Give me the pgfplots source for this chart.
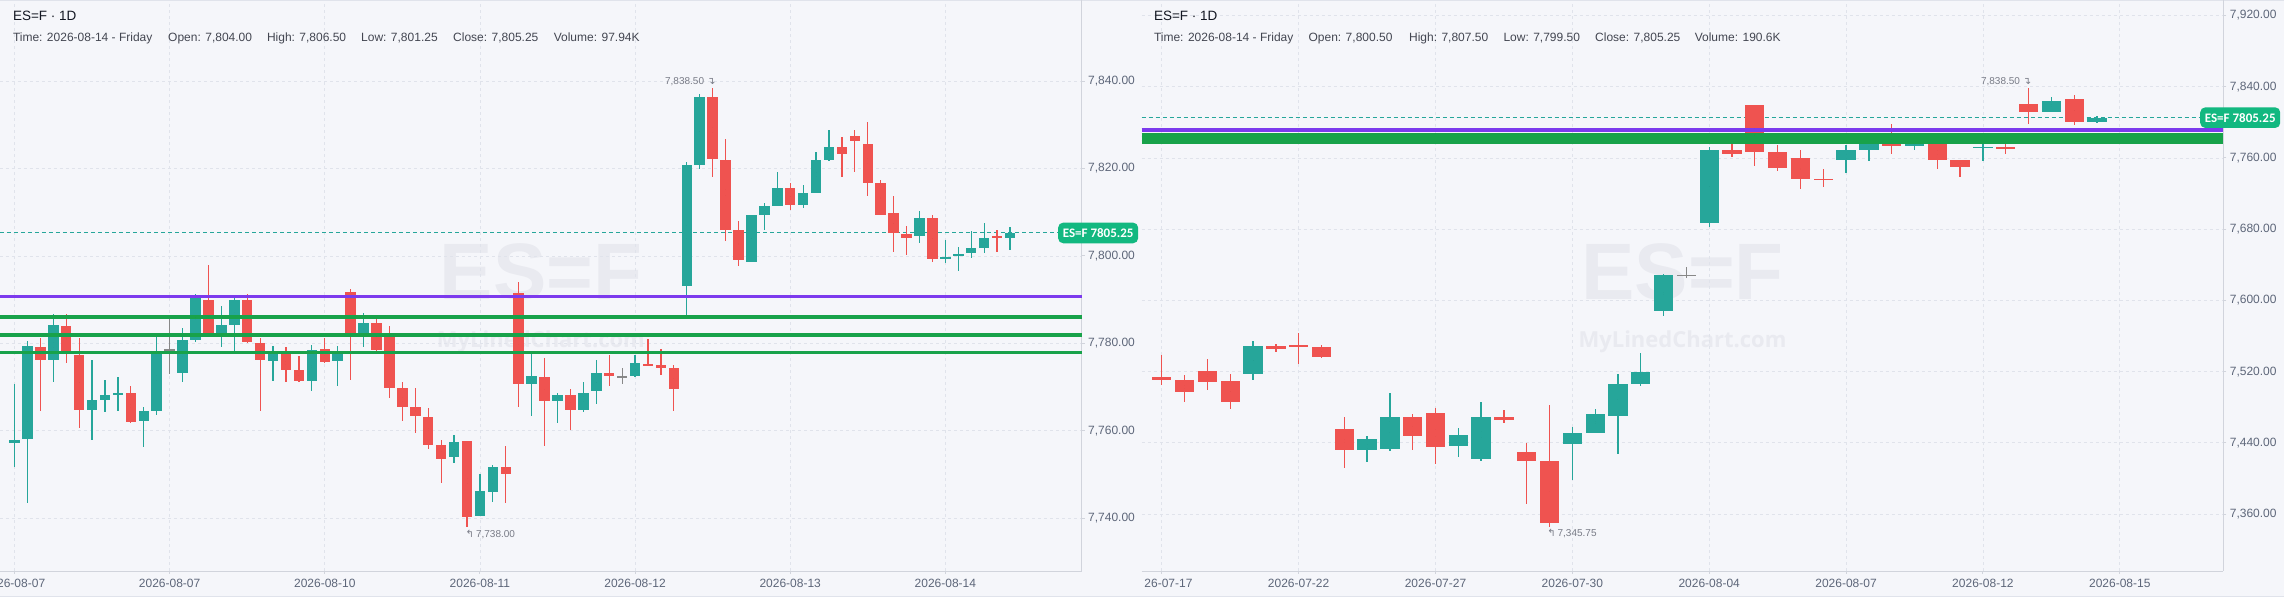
\documentclass[border=0pt]{standalone}
\usepackage{pgfplots}
\pgfplotsset{compat=1.18}
\usepackage{pgfplotstable}
\usepackage{fontspec}
\setmainfont{Liberation Sans}
\newfontfamily\tagfont{Carlito}
\newfontfamily\symfont{DejaVu Sans}
\newfontfamily\wmfont{Open Sans}

\definecolor{bgc}{RGB}{245,246,250}
\definecolor{upc}{RGB}{38,166,154}
\definecolor{dnc}{RGB}{239,83,80}
\definecolor{neuc}{RGB}{136,136,136}
\definecolor{purpc}{RGB}{124,58,237}
\definecolor{linec}{RGB}{24,162,74}
\definecolor{tagc}{RGB}{18,184,128}
\definecolor{gridc}{RGB}{224,227,235}
\definecolor{axc}{RGB}{209,212,220}
\definecolor{labc}{RGB}{93,102,121}
\definecolor{wmc}{RGB}{233,234,240}
\definecolor{titc}{RGB}{19,23,34}
\definecolor{subc}{RGB}{67,70,81}
\definecolor{annc}{RGB}{120,123,134}

% Left panel (intraday candles): index, open, high, low, close
\pgfplotstableread{
i O H L C
0 7757.15 7770.7 7751.8 7757.9
1 7758.1 7780.55 7743.6 7779.4
2 7779.2 7781.2 7764.6 7776.3
3 7776.3 7786.7 7771.25 7784.2
4 7784.0 7786.7 7775.6 7777.7
5 7777.35 7781.2 7760.7 7764.8
6 7764.8 7776.2 7757.8 7767.05
7 7767.05 7771.6 7764.4 7768.2
8 7768.2 7772.4 7764.6 7768.7
9 7768.7 7770.3 7761.9 7762.1
10 7762.3 7765.5 7756.2 7764.5
11 7764.6 7781.5 7763.6 7778.3
12 7778.5 7785.7 7772.9 7778.5
13 7773.2 7783.45 7771.25 7780.8
14 7780.8 7791.3 7780.4 7790.3
15 7789.9 7797.9 7781.4 7782.3
16 7782.3 7788.55 7779.25 7784.2
17 7784.2 7790.3 7778.3 7789.9
18 7789.9 7791.2 7780.0 7780.4
19 7780.2 7781.2 7764.6 7776.3
20 7776.05 7779.4 7771.5 7778.1
21 7778.1 7779.25 7771.25 7773.8
22 7773.8 7777.1 7771.25 7771.5
23 7771.5 7779.6 7769.2 7778.5
24 7778.7 7781.3 7775.4 7775.8
25 7776.05 7779.45 7770.3 7777.7
26 7791.8 7792.4 7771.6 7782.3
27 7782.3 7787.0 7779.25 7784.7
28 7784.7 7785.5 7777.5 7778.5
29 7781.5 7784.0 7767.6 7769.7
30 7769.7 7771.25 7762.3 7765.5
31 7765.4 7769.9 7759.4 7763.5
32 7763.2 7765.3 7755.8 7756.8
33 7756.8 7757.9 7748.0 7753.6
34 7754.0 7759.05 7752.6 7757.5
35 7757.7 7757.7 7738.0 7740.4
36 7740.6 7750.1 7740.5 7746.25
37 7746.1 7752.2 7743.8 7751.8
38 7751.8 7756.5 7743.4 7750.05
39 7791.45 7794.0 7765.5 7770.6
40 7770.6 7777.7 7763.5 7772.55
41 7772.2 7776.6 7756.5 7766.9
42 7766.9 7768.7 7761.7 7768.2
43 7768.2 7769.5 7760.2 7764.8
44 7764.8 7771.25 7764.4 7768.6
45 7769.0 7776.2 7766.1 7773.2
46 7773.2 7777.35 7770.3 7772.6
47 7772.4 7774.3 7770.7 7772.4
48 7772.6 7777.35 7772.4 7775.4
49 7775.3 7780.9 7774.8 7775.0
50 7775.0 7778.6 7772.8 7774.45
51 7774.3 7775.05 7764.6 7769.6
52 7793.2 7821.55 7786.5 7820.8
53 7820.8 7837.0 7819.8 7836.3
54 7836.3 7838.5 7818.1 7822.2
55 7821.9 7826.7 7803.5 7805.9
56 7805.9 7808.0 7797.8 7799.1
57 7798.7 7809.4 7798.5 7809.4
58 7809.4 7812.0 7805.9 7811.5
59 7811.5 7819.1 7811.5 7815.5
60 7815.5 7816.6 7810.5 7811.65
61 7811.65 7816.2 7811.0 7814.3
62 7814.5 7823.8 7814.5 7821.9
63 7821.9 7828.8 7821.7 7824.9
64 7824.9 7827.2 7818.1 7823.4
65 7827.4 7828.8 7819.3 7826.35
66 7825.6 7830.7 7813.8 7816.75
67 7816.75 7817.4 7809.4 7809.4
68 7809.7 7813.7 7801.0 7805.2
69 7805.0 7806.8 7800.1 7804.2
70 7804.6 7810.3 7803.0 7808.6
71 7808.6 7809.4 7798.5 7799.3
72 7799.4 7803.6 7798.3 7799.7
73 7800.1 7802.1 7796.6 7800.4
74 7800.6 7805.7 7799.6 7801.8
75 7801.9 7807.6 7800.6 7804.1
76 7804.55 7805.9 7800.8 7804.2
77 7804.0 7806.5 7801.25 7805.25
}\leftdata

% Right panel (daily candles)
\pgfplotstableread{
i O H L C
0 7513.5 7538.6 7504.9 7510.9
1 7510.5 7516.2 7486.2 7497.4
2 7520.65 7534.1 7499.3 7508.7
3 7509.4 7517.3 7478.0 7486.2
4 7516.9 7554.3 7510.5 7548.7
5 7548.7 7550.95 7542.0 7545.7
6 7550.2 7563.3 7528.5 7547.95
7 7547.6 7549.8 7535.6 7536.7
8 7455.5 7469.0 7412.1 7432.3
9 7432.3 7447.6 7418.8 7444.3
10 7433.4 7496.3 7431.2 7469.0
11 7469.0 7472.35 7432.3 7448.0
12 7473.5 7478.7 7416.6 7435.7
13 7436.8 7456.6 7424.4 7448.75
14 7422.2 7485.8 7419.9 7469.0
15 7469.0 7476.8 7462.6 7466.0
16 7429.7 7439.4 7371.3 7419.9
17 7419.6 7482.5 7345.75 7350.3
18 7439.0 7457.75 7398.2 7451.0
19 7451.4 7478.0 7450.6 7472.35
20 7470.5 7517.3 7427.4 7506.05
21 7506.4 7540.9 7503.8 7519.5
22 7588.4 7629.6 7582.8 7628.5
23 7628.1 7637.45 7625.5 7628.1
24 7686.5 7772.0 7682.8 7768.9
25 7768.9 7775.2 7761.4 7764.7
26 7819.4 7819.4 7751.3 7767.0
27 7766.6 7774.5 7745.65 7749.0
28 7759.9 7768.9 7724.7 7736.7
29 7736.7 7747.9 7727.7 7735.9
30 7758.0 7775.0 7743.4 7768.9
31 7769.2 7780.0 7756.9 7776.0
32 7778.0 7798.1 7764.4 7773.7
33 7773.7 7780.0 7769.2 7777.0
34 7778.0 7780.0 7747.9 7758.0
35 7757.6 7757.6 7738.9 7750.1
36 7771.5 7778.0 7756.9 7772.2
37 7772.2 7776.0 7764.75 7770.4
38 7820.5 7838.5 7798.1 7811.9
39 7811.9 7828.8 7811.9 7823.9
40 7826.1 7830.6 7796.9 7800.7
41 7800.5 7807.5 7799.5 7805.25
}\rightdata

% #1 table, #2 colour, #3 domain of C-O, #4 body width, #5 wick width, #6 min half body
\newcommand{\candleset}[6]{%
  \addplot[only marks, mark=*, mark size=0pt, mark options={draw=none, fill=none}, forget plot,
    restrict expr to domain={\thisrow{C}-\thisrow{O}}{#3},
    error bars/.cd, y dir=both, y explicit, error mark=none,
    error bar style={draw=#2, line width=#5}]
    table[x=i, y expr={\thisrow{L}+(\thisrow{H}-\thisrow{L})/2},
      y error expr={(\thisrow{H}-\thisrow{L})/2}] {#1};
  \addplot[only marks, mark=*, mark size=0pt, mark options={draw=none, fill=none}, forget plot,
    restrict expr to domain={\thisrow{C}-\thisrow{O}}{#3},
    error bars/.cd, y dir=both, y explicit, error mark=none,
    error bar style={draw=#2, line width=#4}]
    table[x=i, y expr={min(\thisrow{O},\thisrow{C})+abs(\thisrow{O}-\thisrow{C})/2},
      y error expr={max(abs(\thisrow{O}-\thisrow{C})/2,#6)}] {#1};
}

\pgfplotsset{
  panel/.style={
    scale only axis, height=571pt,
    axis x line*=bottom, axis y line*=right,
    axis line style={draw=axc, line width=0.9pt},
    tick align=outside, major tick length=3pt,
    tick style={draw=axc, line width=0.9pt},
    grid=major,
    major grid style={draw=gridc, line width=0.8pt, dash pattern=on 3pt off 3pt},
    tick label style={font=\fontsize{12}{14}\selectfont, text=labc},
    xticklabel style={yshift=-1.5pt},
    scaled y ticks=false,
    yticklabel={\pgfmathprintnumber[fixed, fixed zerofill, precision=2, 1000 sep={,}, assume math mode=true]{\tick}},
    clip=false,
  },
}

\begin{document}
\begin{tikzpicture}
\useasboundingbox (0,0) rectangle (2284pt,597pt);
\fill[bgc] (0,0) rectangle (2284pt,597pt);
\draw[gridc, line width=1pt] (0,596.5pt) -- (2284pt,596.5pt);
\draw[gridc, line width=1pt] (0,0.5pt) -- (2284pt,0.5pt);

% watermarks
\node[anchor=base, inner sep=0pt, text=wmc, font=\fontsize{80}{80}\selectfont\bfseries] at (540.9pt,297pt) {ES=F};
\node[anchor=base, inner sep=0pt, text=wmc, font=\wmfont\fontsize{22}{22}\selectfont\bfseries] at (540.9pt,249.3pt) {MyLinedChart.com};
\node[anchor=base, inner sep=0pt, text=wmc, font=\fontsize{80}{80}\selectfont\bfseries] at (1682.5pt,297pt) {ES=F};
\node[anchor=base, inner sep=0pt, text=wmc, font=\wmfont\fontsize{22}{22}\selectfont\bfseries] at (1682.5pt,249.3pt) {MyLinedChart.com};

% ---------------- left panel ----------------
\begin{axis}[panel,
  at={(0pt,26pt)}, anchor=south west, width=1081.7pt,
  xmin=-1.121, xmax=82.54, ymin=7727.95, ymax=7858.52,
  xtick={0,12,24,36,48,60,72},
  xticklabels={\phantom{20}26-08-07,2026-08-07,2026-08-10,2026-08-11,2026-08-12,2026-08-13,2026-08-14},
  ytick={7740,7760,7780,7800,7820,7840},
]
\addplot[upc, line width=1pt, dash pattern=on 4pt off 3pt, forget plot] coordinates {(-1.121,7805.25) (82.54,7805.25)};
\candleset{\leftdata}{upc}{0.001:1000}{10.5pt}{1.2pt}{0.115}
\candleset{\leftdata}{dnc}{-1000:-0.001}{10.5pt}{1.2pt}{0.115}
\candleset{\leftdata}{neuc}{-0.0005:0.0005}{10.5pt}{1.2pt}{0.115}
\addplot[purpc, line width=3.7pt, forget plot] coordinates {(-1.121,7790.7) (82.54,7790.7)};
\addplot[linec, line width=3.7pt, forget plot] coordinates {(-1.121,7786.1) (82.54,7786.1)};
\addplot[linec, line width=3.7pt, forget plot] coordinates {(-1.121,7781.9) (82.54,7781.9)};
\addplot[linec, line width=3.7pt, forget plot] coordinates {(-1.121,7777.9) (82.54,7777.9)};
\node[anchor=base east, inner sep=0pt, text=annc, font=\fontsize{10}{12}\selectfont, xshift=3pt, yshift=3.3pt] at (axis cs:54,7838.5) {7,838.50\hspace{3pt}{\symfont ↴}};
\node[anchor=base west, inner sep=0pt, text=annc, font=\fontsize{10}{12}\selectfont, xshift=-1.5pt, yshift=-10pt] at (axis cs:35,7738) {{\symfont ↰}\hspace{2pt}7,738.00};
\node[fill=tagc, rounded corners=5pt, text=white, minimum width=80pt, minimum height=20.6pt, inner sep=0pt, anchor=west, xshift=-23.7pt, font=\tagfont\bfseries\fontsize{13}{14}\selectfont] at (axis cs:82.54,7805.25) {ES=F 7805.25};
\end{axis}

% ---------------- right panel ----------------
\begin{axis}[panel,
  at={(1141.7pt,26pt)}, anchor=south west, width=1081.6pt,
  xmin=-0.881, xmax=46.54, ymin=7296.15, ymax=7937.36,
  xtick={0,6,12,18,24,30,36,42},
  xticklabels={\phantom{20}26-07-17,2026-07-22,2026-07-27,2026-07-30,2026-08-04,2026-08-07,2026-08-12,2026-08-15},
  ytick={7360,7440,7520,7600,7680,7760,7840,7920},
]
\addplot[upc, line width=1pt, dash pattern=on 4pt off 3pt, forget plot] coordinates {(-0.881,7805.25) (46.54,7805.25)};
\candleset{\rightdata}{upc}{0.001:1000}{19.3pt}{1.3pt}{0.56}
\candleset{\rightdata}{dnc}{-1000:-0.001}{19.3pt}{1.3pt}{0.56}
\candleset{\rightdata}{neuc}{-0.0005:0.0005}{19.3pt}{1.3pt}{0.56}
\addplot[purpc, line width=3.9pt, forget plot] coordinates {(-0.881,7791.3) (46.54,7791.3)};
\addplot[linec, line width=3.9pt, forget plot] coordinates {(-0.881,7786.1) (46.54,7786.1)};
\addplot[linec, line width=3.9pt, forget plot] coordinates {(-0.881,7781.9) (46.54,7781.9)};
\addplot[linec, line width=3.9pt, forget plot] coordinates {(-0.881,7777.9) (46.54,7777.9)};
\node[anchor=base east, inner sep=0pt, text=annc, font=\fontsize{10}{12}\selectfont, xshift=3pt, yshift=3.3pt] at (axis cs:38,7838.5) {7,838.50\hspace{3pt}{\symfont ↴}};
\node[anchor=base west, inner sep=0pt, text=annc, font=\fontsize{10}{12}\selectfont, xshift=-2.5pt, yshift=-10pt] at (axis cs:17,7345.75) {{\symfont ↰}\hspace{2pt}7,345.75};
\node[fill=tagc, rounded corners=5pt, text=white, minimum width=80pt, minimum height=20.6pt, inner sep=0pt, anchor=west, xshift=-23.3pt, font=\tagfont\bfseries\fontsize{13}{14}\selectfont] at (axis cs:46.54,7805.25) {ES=F 7805.25};
\end{axis}

% headers
\node[anchor=base west, inner sep=0pt, text=titc, font=\fontsize{13.5}{15}\selectfont] at (12.8pt,576.3pt) {ES=F · 1D};
\begin{scope}[every node/.style={anchor=base west, inner sep=0pt, text=subc, font=\fontsize{12}{14}\selectfont}]
\node at (12.8pt,555.3pt) {Time: 2026-08-14 - Friday};
\node at (168pt,555.3pt) {Open: 7,804.00};
\node at (266.8pt,555.3pt) {High: 7,806.50};
\node at (361pt,555.3pt) {Low: 7,801.25};
\node at (453pt,555.3pt) {Close: 7,805.25};
\node at (553.6pt,555.3pt) {Volume: 97.94K};
\end{scope}
\node[anchor=base west, inner sep=0pt, text=titc, font=\fontsize{13.5}{15}\selectfont] at (1153.8pt,576.3pt) {ES=F · 1D};
\begin{scope}[every node/.style={anchor=base west, inner sep=0pt, text=subc, font=\fontsize{12}{14}\selectfont}]
\node at (1153.8pt,555.3pt) {Time: 2026-08-14 - Friday};
\node at (1308.4pt,555.3pt) {Open: 7,800.50};
\node at (1408.9pt,555.3pt) {High: 7,807.50};
\node at (1503.3pt,555.3pt) {Low: 7,799.50};
\node at (1595pt,555.3pt) {Close: 7,805.25};
\node at (1694.6pt,555.3pt) {Volume: 190.6K};
\end{scope}
\end{tikzpicture}
\end{document}
